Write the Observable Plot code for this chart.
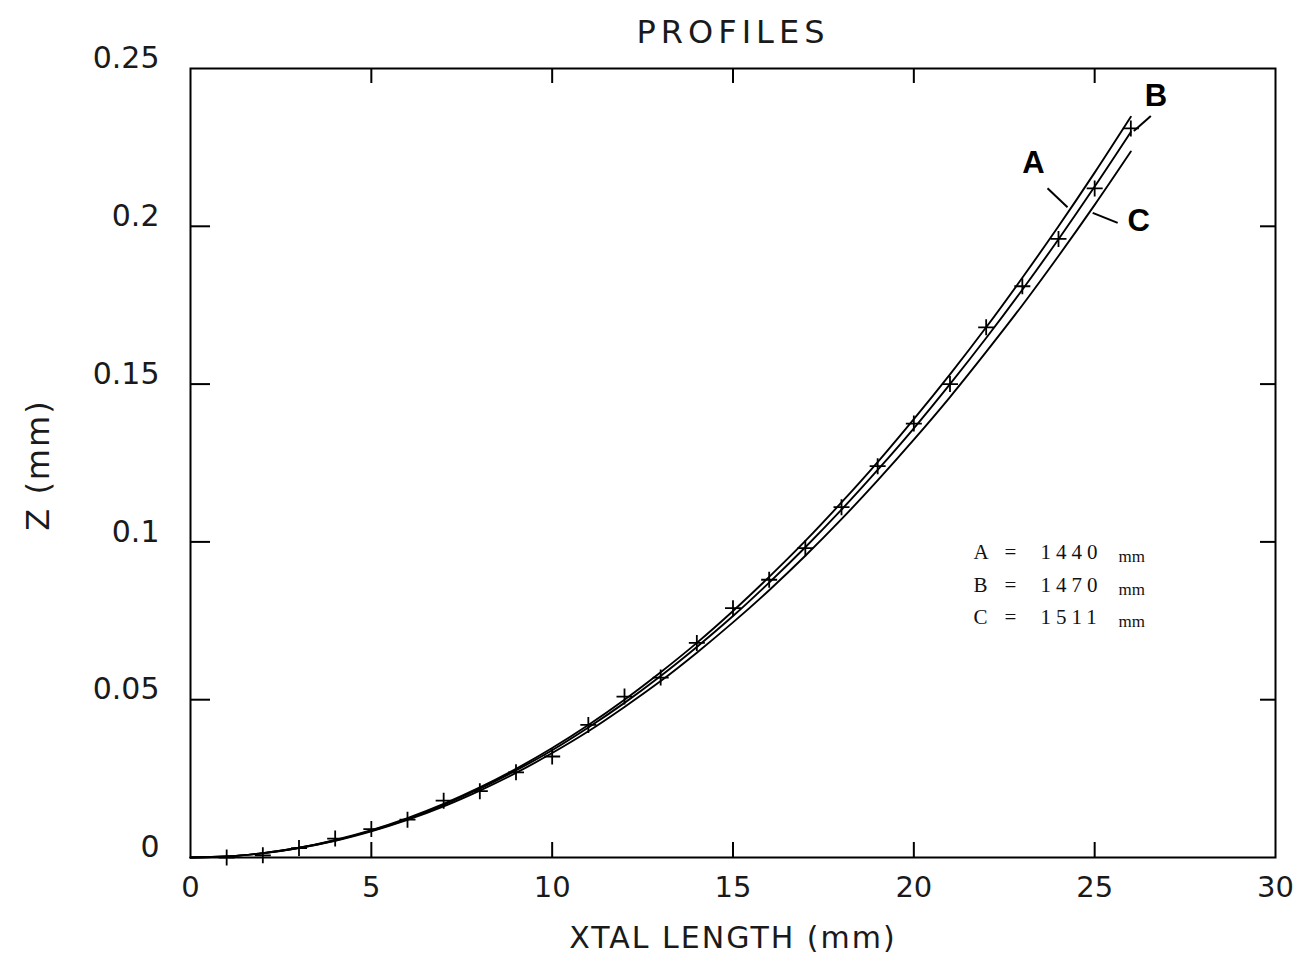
<!DOCTYPE html>
<html>
<head>
<meta charset="utf-8">
<script src="https://cdn.jsdelivr.net/npm/d3@7"></script>
<script src="https://cdn.jsdelivr.net/npm/@observablehq/plot@0.6"></script>
<style>
  html, body { margin: 0; padding: 0; background: #fff; }
</style>
</head>
<body>
<div id="chart"></div>
<script>
// ---- data ----
const xs      = [0, 1, 2, 3, 4, 5, 6, 7, 8, 9, 10, 11, 12, 13, 14, 15, 16, 17, 18, 19, 20, 21, 22, 23, 24, 25, 26];
const seriesA = [0, 0.0003, 0.0014, 0.0031, 0.0056, 0.0087, 0.0125, 0.0170, 0.0222, 0.0281, 0.0347, 0.0420, 0.0500, 0.0587, 0.0680, 0.0781, 0.0889, 0.1003, 0.1125, 0.1253, 0.1389, 0.1531, 0.1680, 0.1837, 0.2000, 0.2170, 0.2347];
const seriesB = [0, 0.0003, 0.0014, 0.0031, 0.0054, 0.0085, 0.0122, 0.0167, 0.0218, 0.0276, 0.0340, 0.0412, 0.0490, 0.0575, 0.0667, 0.0765, 0.0871, 0.0983, 0.1102, 0.1228, 0.1360, 0.1500, 0.1646, 0.1799, 0.1959, 0.2126, 0.2299];
const seriesC = [0, 0.0003, 0.0013, 0.0030, 0.0053, 0.0083, 0.0119, 0.0162, 0.0212, 0.0268, 0.0331, 0.0400, 0.0477, 0.0559, 0.0649, 0.0745, 0.0847, 0.0956, 0.1072, 0.1195, 0.1324, 0.1459, 0.1602, 0.1750, 0.1906, 0.2068, 0.2237];

const markerX = [1, 2, 3, 4, 5, 6, 7, 8, 9, 10, 11, 12, 13, 14, 15, 16, 17, 18, 19, 20, 21, 22, 23, 24, 25, 26];
const markerZ = [0, 0.0007, 0.003, 0.006, 0.009, 0.012, 0.018, 0.021, 0.027, 0.032, 0.042, 0.051, 0.057, 0.068, 0.079, 0.088, 0.098, 0.111, 0.124, 0.1375, 0.150, 0.168, 0.181, 0.196, 0.212, 0.231];

const xTickLabels = [0, 5, 10, 15, 20, 25, 30];
const xInnerTicks = [5, 10, 15, 20, 25];
const yTickLabels = [0, 0.05, 0.1, 0.15, 0.2, 0.25];
const yInnerTicks = [0.05, 0.1, 0.15, 0.2];

const legendKeys   = ["A", "B", "C"];
const legendValues = ["1440", "1470", "1511"];
const legendUnit   = "mm";

const titleText = "PROFILES";
const xLabel = "XTAL LENGTH (mm)";
const yLabel = "Z (mm)";

// ---- layout ----
const W = 1310, H = 964;
const mL = 190, mR = 35, mT = 68, mB = 107;
const innerW = W - mL - mR, innerH = H - mT - mB;

// ---- tables ----
const seriesMap = {A: seriesA, B: seriesB, C: seriesC};
const lineRows = [];
for (const k of ["A", "B", "C"]) xs.forEach((x, i) => lineRows.push({series: k, x, z: seriesMap[k][i]}));
const markers = markerX.map((x, i) => ({x, z: markerZ[i]}));

// custom symbols
const plusSymbol = {draw(ctx, size) {
  const r = Math.sqrt(size / Math.PI);
  ctx.moveTo(-r, 0); ctx.lineTo(r, 0);
  ctx.moveTo(0, -r); ctx.lineTo(0, r);
}};
const segment = (x1, y1, x2, y2) => ({draw(ctx) { ctx.moveTo(x1, y1); ctx.lineTo(x2, y2); }});

// curve labels anchored to a point of their own curve
const curveLabels = [
  {name: "B", at: 26, lead: [3, -1, 20, -16], text: [25, -36]},
  {name: "A", at: 24, lead: [-11, -38, 9, -19], text: [-25, -63]},
  {name: "C", at: 25, lead: [-2, 8, 23, 18], text: [44, 16]}
];

const labelMarks = [];
for (const L of curveLabels) {
  const pt = [{x: L.at, z: seriesMap[L.name][xs.indexOf(L.at)]}];
  labelMarks.push(Plot.dot(pt, {x: "x", y: "z", symbol: segment(...L.lead), fill: "none", stroke: "black", strokeWidth: 2}));
  labelMarks.push(Plot.text(pt, {x: "x", y: "z", text: () => L.name, dx: L.text[0], dy: L.text[1],
    fontFamily: "Liberation Sans, Arial, sans-serif", fontWeight: "bold", fontSize: 31, fill: "black"}));
}

const fmtY = d => d === 0 ? "0" : String(d);
const serif = "Liberation Serif, DejaVu Serif, serif";
const legendDy = 513;

const chart = Plot.plot({
  width: W, height: H,
  marginLeft: mL, marginRight: mR, marginTop: mT, marginBottom: mB,
  x: {domain: [0, 30], axis: null},
  y: {domain: [0, 0.25], axis: null},
  style: {background: "white", color: "black", fontFamily: "DejaVu Sans, sans-serif", overflow: "visible"},
  marks: [
    // inward ticks
    Plot.ruleX(xInnerTicks, {x: d => d, insetTop: innerH - 15, stroke: "black", strokeWidth: 2}),
    Plot.ruleX(xInnerTicks, {x: d => d, insetBottom: innerH - 15, stroke: "black", strokeWidth: 2}),
    Plot.ruleY(yInnerTicks, {y: d => d, insetRight: innerW - 20, stroke: "black", strokeWidth: 2}),
    Plot.ruleY(yInnerTicks, {y: d => d, insetLeft: innerW - 15, stroke: "black", strokeWidth: 2}),
    Plot.frame({stroke: "black", strokeWidth: 2}),
    // tick labels
    Plot.text(xTickLabels, {x: d => d, frameAnchor: "bottom", lineAnchor: "middle", dy: 30, text: d => String(d), fontSize: 29, fill: "#1a1a1a"}),
    Plot.text(yTickLabels, {y: d => d, frameAnchor: "left", dx: -31, dy: -10, textAnchor: "end", lineAnchor: "middle", text: fmtY, fontSize: 30, fill: "#1a1a1a"}),
    // axis labels and title
    Plot.text([titleText], {frameAnchor: "top", lineAnchor: "middle", dx: 0, dy: -36, text: d => d, fontSize: 32, fill: "#1a1a1a"}),
    Plot.text([xLabel], {frameAnchor: "bottom", lineAnchor: "middle", dy: 81, text: d => d, fontSize: 30, fill: "#1a1a1a"}),
    Plot.text([yLabel], {frameAnchor: "left", dx: -152, dy: 2, rotate: -90, textAnchor: "middle", lineAnchor: "middle", text: d => d, fontSize: 32, fill: "#1a1a1a"}),
    // curves
    Plot.line(lineRows, {x: "x", y: "z", z: "series", curve: "catmull-rom", stroke: "black", strokeWidth: 1.9}),
    Plot.dot(markers, {x: "x", y: "z", symbol: plusSymbol, r: 8, fill: "none", stroke: "black", strokeWidth: 1.8}),
    ...labelMarks,
    // legend
    Plot.text([legendKeys.join("\n")], {frameAnchor: "top-left", dx: 783, dy: legendDy, textAnchor: "start", lineAnchor: "middle", lineHeight: 1.55, text: d => d,
      fontFamily: serif, fontSize: 21, fill: "#111"}),
    Plot.text([legendKeys.map(() => "=").join("\n")], {frameAnchor: "top-left", dx: 814, dy: legendDy, textAnchor: "start", lineAnchor: "middle", lineHeight: 1.55, text: d => d,
      fontFamily: serif, fontSize: 21, fill: "#111"}),
    Plot.text([legendValues.join("\n")], {frameAnchor: "top-left", dx: 850, dy: legendDy, textAnchor: "start", lineAnchor: "middle", lineHeight: 1.55, text: d => d,
      fontFamily: serif, fontSize: 21, fill: "#111"}),
    Plot.text([legendKeys.map(() => legendUnit).join("\n")], {frameAnchor: "top-left", dx: 928, dy: legendDy + 3, textAnchor: "start", lineAnchor: "middle", lineHeight: 1.55 * 21 / 17, text: d => d,
      fontFamily: serif, fontSize: 17, fill: "#111"})
  ]
});

// letter spacing to imitate the plotter lettering
const spacing = new Map([[titleText, "5px"], [xLabel, "2px"], [yLabel, "2px"], [legendValues.join(""), "5px"]]);
d3.select(chart).selectAll("text").each(function() {
  const s = spacing.get(this.textContent);
  if (s) this.style.letterSpacing = s;
});

document.getElementById("chart").appendChild(chart);
</script>
</body>
</html>
